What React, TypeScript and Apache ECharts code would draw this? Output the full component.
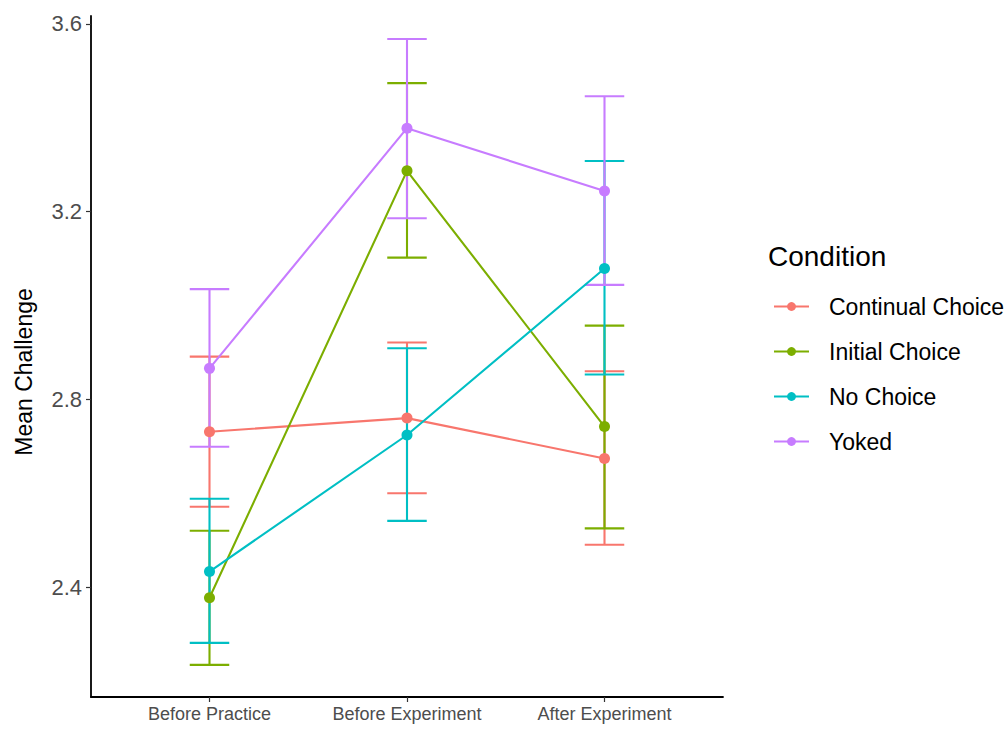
import React, { useEffect, useRef } from "react";
import * as echarts from "echarts";

const categories = ["Before Practice", "Before Experiment", "After Experiment"];
const conditions = ["Continual Choice", "Initial Choice", "No Choice", "Yoked"];
const colors = ["#F8766D", "#7CAE00", "#00BFC4", "#C77CFF"];

const continualMean = [2.731, 2.760, 2.674];
const continualLow = [2.571, 2.600, 2.490];
const continualHigh = [2.891, 2.921, 2.860];

const initialMean = [2.377, 3.287, 2.742];
const initialLow = [2.234, 3.102, 2.525];
const initialHigh = [2.520, 3.474, 2.957];

const noChoiceMean = [2.433, 2.724, 3.079];
const noChoiceLow = [2.281, 2.541, 2.853];
const noChoiceHigh = [2.588, 2.909, 3.308];

const yokedMean = [2.866, 3.378, 3.244];
const yokedLow = [2.699, 3.186, 3.044];
const yokedHigh = [3.035, 3.568, 3.446];

const yTicks = [2.4, 2.8, 3.2, 3.6];

const means = [continualMean, initialMean, noChoiceMean, yokedMean];
const lows = [continualLow, initialLow, noChoiceLow, yokedLow];
const highs = [continualHigh, initialHigh, noChoiceHigh, yokedHigh];

export default function App() {
  const ref = useRef<HTMLDivElement>(null);
  useEffect(() => {
    document.body.style.margin = "0";
    const chart = echarts.init(ref.current!, null, { renderer: "svg" });
    const font = "Liberation Sans, Arial, sans-serif";
    const errSeries = conditions.map((name, i) => ({
      type: "custom",
      name,
      z: 2,
      encode: { x: 0, y: [1, 2] },
      data: categories.map((_, j) => [j + 1, lows[i][j], highs[i][j]]),
      renderItem: (params: any, api: any) => {
        const x = api.value(0);
        const lo = api.coord([x, api.value(1)]);
        const hi = api.coord([x, api.value(2)]);
        const half = api.size([0.2, 0])[0] / 2;
        const style = { stroke: colors[i], lineWidth: 2.1, fill: "none" };
        return {
          type: "group",
          children: [
            { type: "line", shape: { x1: lo[0], y1: lo[1], x2: hi[0], y2: hi[1] }, style },
            { type: "line", shape: { x1: lo[0] - half, y1: lo[1], x2: lo[0] + half, y2: lo[1] }, style },
            { type: "line", shape: { x1: hi[0] - half, y1: hi[1], x2: hi[0] + half, y2: hi[1] }, style },
          ],
        };
      },
    }));
    const lineSeries = conditions.map((name, i) => ({
      type: "line",
      name,
      z: 3,
      data: categories.map((_, j) => [j + 1, means[i][j]]),
      symbol: "circle",
      symbolSize: 11,
      showSymbol: true,
      itemStyle: { color: colors[i] },
      lineStyle: { color: colors[i], width: 2.1 },
    }));
    chart.setOption({
      animation: false,
      backgroundColor: "#ffffff",
      grid: { left: 91, right: 285, top: 16, bottom: 35 },
      title: {
        text: "Condition",
        left: 768,
        top: 242,
        padding: 0,
        textStyle: { fontFamily: font, fontSize: 28, fontWeight: "normal", color: "#000" },
      },
      legend: {
        orient: "vertical",
        left: 773,
        top: 295,
        padding: 0,
        itemWidth: 35,
        itemHeight: 11,
        itemGap: 22,
        data: conditions,
        textStyle: { fontFamily: font, fontSize: 23, color: "#000", padding: [0, 0, 0, 15] },
      },
      graphic: [
        {
          type: "text",
          x: 24,
          y: 372,
          rotation: Math.PI / 2,
          style: {
            text: "Mean Challenge",
            fontFamily: font,
            fontSize: 23,
            fill: "#000",
            align: "center",
            verticalAlign: "middle",
          },
        },
      ],
      xAxis: {
        type: "value",
        min: 0.4,
        max: 3.6,
        splitLine: { show: false },
        axisLine: { show: true, lineStyle: { color: "#000", width: 1.8 } },
        axisTick: { show: true, customValues: [1, 2, 3], length: 5, lineStyle: { color: "#333", width: 1.2 } },
        axisLabel: {
          customValues: [1, 2, 3],
          formatter: (v: number) => categories[Math.round(v) - 1] ?? "",
          fontFamily: font,
          fontSize: 18,
          color: "#4D4D4D",
          margin: 8,
        },
      },
      yAxis: {
        type: "value",
        min: 2.1656,
        max: 3.617,
        splitLine: { show: false },
        axisLine: { show: true, lineStyle: { color: "#000", width: 1.8 } },
        axisTick: { show: true, customValues: yTicks, length: 5, lineStyle: { color: "#333", width: 1.2 } },
        axisLabel: {
          customValues: yTicks,
          formatter: (v: number) => v.toFixed(1),
          fontFamily: font,
          fontSize: 22,
          color: "#4D4D4D",
          margin: 9,
        },
      },
      series: [...lineSeries, ...errSeries],
    });
    return () => chart.dispose();
  }, []);
  return <div ref={ref} style={{ width: 1008, height: 732 }} />;
}
